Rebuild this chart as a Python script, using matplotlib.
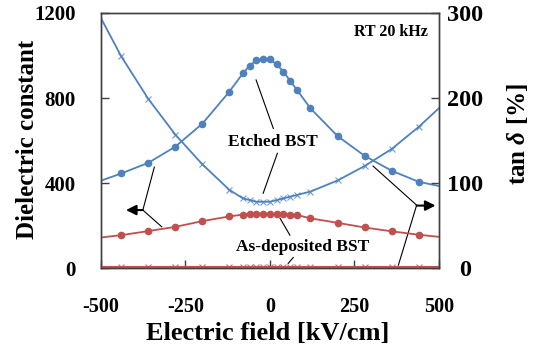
import matplotlib
matplotlib.use("Agg")
import matplotlib.pyplot as plt

plt.rcParams['font.family'] = ['Liberation Serif', 'DejaVu Serif']
plt.rcParams['font.weight'] = 'bold'
plt.rcParams['axes.unicode_minus'] = False
plt.rcParams['mathtext.fontset'] = 'custom'
plt.rcParams['mathtext.rm'] = 'Liberation Serif:bold'
plt.rcParams['mathtext.it'] = 'Liberation Serif:bold:italic'

# measured bias fields (kV/cm)
field = [-440, -360, -280, -200, -120, -80, -60, -40, -20, 0,
         20, 40, 60, 80, 120, 200, 280, 360, 440]

# etched BST
etched_eps = [445, 495, 571, 679, 830, 916, 952, 977, 984, 982,
              958, 924, 880, 838, 751, 621, 528, 458, 406]
etched_tan = [249, 199, 157, 122, 92, 82, 80, 78, 78, 78,
              80, 82, 84, 86, 90, 103, 120, 140, 166]

# as-deposited BST
asdep_eps = [155, 174, 194, 221, 243, 252, 254, 255, 256, 256,
             255, 254, 252, 250, 234, 213, 191, 173, 157]
asdep_tan = [1.5, 1.5, 1.5, 1.5, 1.5, 1.5, 1.5, 1.5, 1.5, 1.5,
             1.5, 1.5, 1.5, 1.5, 1.5, 1.5, 1.5, 1.5, 1.5]

# trend lines run out to the axis edges
edge = [-500, 500]
etched_eps_edge = [411, 386]
etched_tan_edge = [294, 188]
asdep_eps_edge = [144, 147]
asdep_tan_edge = [1.5, 1.5]

blue = '#4F81BD'
red = '#C0504D'
spine_col = '#404040'

fig = plt.figure(figsize=(5.34, 3.5), dpi=100)
ax = fig.add_axes([0.189, 0.234, 0.633, 0.729])
ax2 = ax.twinx()

def with_edges(x, y, e):
    return [edge[0]] + x + [edge[1]], [e[0]] + y + [e[1]]

lx, ly = with_edges(field, etched_eps, etched_eps_edge)
ax.plot(lx, ly, color=blue, lw=1.3, zorder=3)
ax.plot(field, etched_eps, 'o', color=blue, ms=4.5, zorder=4)
lx, ly = with_edges(field, asdep_eps, asdep_eps_edge)
ax.plot(lx, ly, color=red, lw=1.3, zorder=3)
ax.plot(field, asdep_eps, 'o', color=red, ms=4.5, zorder=4)

lx, ly = with_edges(field, etched_tan, etched_tan_edge)
ax2.plot(lx, ly, color=blue, lw=1.3)
ax2.plot(field, etched_tan, 'x', color=blue, ms=4, mew=0.8, alpha=0.8)
lx, ly = with_edges(field, asdep_tan, asdep_tan_edge)
ax2.plot(lx, ly, color=red, lw=1.5)
ax2.plot(field, asdep_tan, 'x', color=red, ms=4, mew=0.8, alpha=0.8)

ax.set_xlim(-500, 500)
ax.set_ylim(0, 1200)
ax2.set_ylim(0, 300)
ax.set_xticks([-500, -250, 0, 250, 500])
ax.set_yticks([0, 400, 800, 1200])
ax2.set_yticks([0, 100, 200, 300])

ax.tick_params(axis='x', direction='in', length=6, width=1, color=spine_col,
               labelsize=14.5, pad=21)
ax.tick_params(axis='y', direction='in', length=6, width=1, color=spine_col,
               labelsize=15, pad=18)
ax2.tick_params(axis='y', direction='in', length=6, width=1, color=spine_col,
                labelsize=17.5, pad=19)
for lab in ax2.get_yticklabels():
    lab.set_horizontalalignment('center')
for a in (ax, ax2):
    for s in a.spines.values():
        s.set_color(spine_col)
        s.set_linewidth(1.0)

ax.set_xlabel('Electric field [kV/cm]', fontsize=19, fontweight='bold', va='center')
ax.xaxis.set_label_coords(0.494, -0.255)
ax.set_ylabel('Dielectric constant', fontsize=18, fontweight='bold', va='center')
ax.yaxis.set_label_coords(-0.216, 0.506)
ax2.set_ylabel('tan $\\delta$ [%]', fontsize=18, fontweight='bold', va='center',
               rotation=90)
ax2.yaxis.set_label_coords(1.231, 0.525)

ax.text(0.967, 0.925, 'RT 20 kHz', transform=ax.transAxes, ha='right', va='center',
        fontsize=11.5, fontweight='bold')

# labels with leader lines
ax2.set_zorder(ax.get_zorder() + 1)
ax2.patch.set_visible(False)
ax.text(10, 594, 'Etched BST', ha='center', va='center', fontsize=12.5, fontweight='bold')
ax.plot([-41, 10], [885, 657], color='black', lw=0.8)
ax.plot([22, -20], [540, 352], color='black', lw=0.8)
ax.text(96, 99, 'As-deposited BST', ha='center', va='center', fontsize=12.5, fontweight='bold')
ax.plot([30, 59], [234, 155], color='black', lw=0.8)
ax.plot([69, 54], [50, 22], color='black', lw=0.8)

# axis pointers
ax.plot([-342, -376, -320], [475, 273, 194], color='black', lw=0.8)
ax.annotate('', xy=(-426, 273), xytext=(-376, 273),
            arrowprops=dict(arrowstyle='-|>,head_length=0.6,head_width=0.3',
                            color='black', lw=1.5, shrinkA=0, shrinkB=0))
ax.plot([305, 434, 380], [480, 296, 14], color='black', lw=0.8)
ax.annotate('', xy=(490, 294), xytext=(434, 294),
            arrowprops=dict(arrowstyle='-|>,head_length=0.6,head_width=0.3',
                            color='black', lw=1.5, shrinkA=0, shrinkB=0))

fig.savefig('out.png', dpi=100)
